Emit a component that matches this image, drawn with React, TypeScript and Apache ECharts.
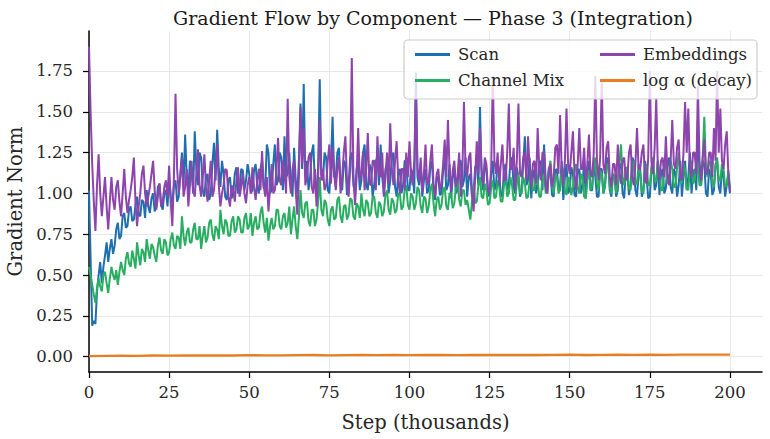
import React, { useEffect, useRef } from "react";
import * as echarts from "echarts";

const TITLE = "Gradient Flow by Component — Phase 3 (Integration)";
const X_NAME = "Step (thousands)";
const Y_NAME = "Gradient Norm";
const X_TICKS = [0, 25, 50, 75, 100, 125, 150, 175, 200];
const Y_TICKS = [0, 0.25, 0.5, 0.75, 1.0, 1.25, 1.5, 1.75];

// one value per 0.5k steps, step 0..200 (each row = 10k steps)
const SCAN = [
  1.02, 0.6, 0.19, 0.22, 0.2, 0.4, 0.5, 0.58, 0.45, 0.55, 0.62, 0.7, 0.58, 0.66, 0.72, 0.63, 0.68, 0.78, 0.82, 0.72,
  0.74, 0.86, 0.88, 0.79, 0.8, 0.9, 0.92, 0.83, 0.84, 0.93, 0.98, 0.87, 0.86, 0.96, 0.95, 0.85, 1.02, 0.92, 0.88, 0.97,
  1.0, 0.89, 0.92, 1.04, 1.06, 0.93, 0.9, 1.0, 1.02, 0.92, 1.1, 0.98, 0.94, 1.05, 1.08, 0.95, 0.98, 1.12, 1.25, 1.04,
  1.36, 1.1, 1.02, 1.2, 1.15, 1.0, 1.38, 1.15, 1.05, 1.25, 1.22, 1.02, 0.98, 1.1, 1.12, 0.96, 1.0, 1.18, 1.31, 1.08,
  1.39, 1.15, 1.04, 1.2, 1.12, 0.98, 0.96, 1.08, 1.1, 0.97, 1.0, 1.12, 1.16, 1.0, 1.02, 1.15, 1.14, 1.02, 1.08, 1.18,
  1.12, 1.0, 1.02, 1.14, 1.18, 1.04, 1.0, 1.15, 1.2, 1.03, 1.05, 1.3, 1.25, 1.0, 1.02, 1.18, 1.3, 1.05, 1.08, 1.25,
  1.22, 1.02, 1.35, 1.1, 1.12, 1.25, 1.05, 0.98, 1.28, 1.08, 1.0, 1.2, 1.55, 1.15, 1.67, 1.1, 1.2, 1.02, 1.1, 1.25,
  1.3, 1.05, 1.02, 1.15, 1.7, 1.12, 1.08, 1.25, 1.22, 1.02, 1.0, 1.18, 1.47, 1.1, 1.1, 1.25, 1.28, 1.05, 1.02, 1.2,
  1.18, 0.99, 1.05, 1.22, 1.25, 1.05, 1.0, 1.15, 1.2, 1.02, 1.08, 1.25, 1.3, 1.05, 1.02, 1.18, 1.15, 0.98, 1.05, 1.2,
  1.22, 1.05, 1.3, 1.1, 1.0, 1.15, 1.18, 1.0, 1.08, 1.22, 1.25, 1.04, 0.98, 1.12, 1.15, 1.0, 1.05, 1.2, 1.2, 1.02,
  1.02, 1.15, 1.12, 1.0, 1.74, 1.1, 1.05, 1.18, 0.98, 1.08, 1.15, 1.0, 1.02, 1.16, 1.2, 1.02, 0.96, 1.1, 1.1, 0.99,
  1.0, 1.14, 1.22, 1.02, 1.05, 1.18, 0.97, 1.1, 1.15, 1.0, 1.02, 1.2, 1.2, 1.04, 1.08, 1.22, 0.98, 1.1, 1.12, 0.98,
  1.0, 1.16, 1.18, 1.05, 1.53, 1.1, 1.02, 1.18, 1.15, 1.0, 0.98, 1.12, 1.2, 1.02, 1.05, 1.2, 1.12, 0.99, 0.98, 1.15,
  1.18, 1.02, 1.05, 1.2, 1.22, 1.04, 1.0, 1.16, 1.1, 0.98, 1.02, 1.18, 1.35, 1.05, 1.08, 1.22, 0.97, 1.1, 1.15, 1.0,
  1.05, 1.18, 1.2, 1.02, 1.3, 1.08, 1.0, 1.16, 1.12, 0.99, 0.98, 1.14, 1.15, 1.02, 1.05, 1.2, 0.96, 1.1, 1.18, 1.0,
  1.02, 1.16, 1.12, 0.99, 0.98, 1.14, 1.15, 1.0, 1.05, 1.2, 0.97, 1.1, 1.2, 1.02, 1.02, 1.18, 1.1, 0.98, 0.98, 1.15,
  1.15, 1.0, 1.05, 1.22, 1.2, 1.02, 0.98, 1.12, 1.1, 0.98, 1.02, 1.18, 1.18, 1.0, 0.97, 1.14, 1.12, 0.99, 1.05, 1.22,
  1.2, 1.02, 0.98, 1.12, 1.15, 0.98, 1.02, 1.2, 1.1, 0.97, 0.98, 1.15, 1.18, 1.02, 1.05, 1.2, 0.99, 1.12, 1.15, 1.0,
  1.03, 1.18, 1.22, 1.04, 1.0, 1.15, 1.12, 0.98, 1.05, 1.2, 0.98, 1.1, 1.2, 1.02, 1.1, 1.25, 1.0, 1.12, 1.15, 1.02,
  1.45, 1.1, 1.05, 1.2, 1.18, 1.0, 0.98, 1.15, 1.12, 0.99, 1.02, 1.18, 1.2, 1.04, 1.0, 1.15, 1.1, 0.98, 1.05, 1.12,
  1.0,
];

const CHANNEL_MIX = [
  0.55, 0.5, 0.44, 0.38, 0.33, 0.42, 0.48, 0.43, 0.4, 0.5, 0.52, 0.45, 0.39, 0.48, 0.55, 0.5, 0.47, 0.53, 0.44, 0.52,
  0.58, 0.53, 0.5, 0.6, 0.64, 0.57, 0.55, 0.65, 0.6, 0.54, 0.7, 0.62, 0.56, 0.66, 0.64, 0.58, 0.72, 0.65, 0.6, 0.69,
  0.67, 0.62, 0.58, 0.68, 0.73, 0.65, 0.63, 0.72, 0.7, 0.62, 0.64, 0.72, 0.76, 0.68, 0.66, 0.74, 0.73, 0.66, 0.86, 0.74,
  0.68, 0.76, 0.79, 0.7, 0.7, 0.78, 0.82, 0.72, 0.72, 0.8, 0.66, 0.74, 0.8, 0.7, 0.73, 0.82, 0.84, 0.75, 0.71, 0.8,
  0.78, 0.72, 0.9, 0.8, 0.75, 0.84, 0.82, 0.74, 0.74, 0.83, 0.86, 0.76, 0.78, 0.86, 0.84, 0.76, 0.76, 0.85, 0.88, 0.78,
  0.8, 0.88, 0.74, 0.82, 0.86, 0.78, 0.79, 0.88, 0.92, 0.82, 0.76, 0.85, 0.71, 0.8, 0.85, 0.78, 0.8, 0.9, 0.9, 0.8,
  0.78, 0.86, 0.88, 0.79, 0.82, 0.92, 0.75, 0.84, 0.92, 0.8, 0.72, 0.85, 1.02, 0.88, 0.85, 0.94, 0.95, 0.83, 0.8, 0.9,
  0.9, 0.8, 0.84, 0.95, 1.1, 0.9, 0.86, 0.96, 0.94, 0.84, 0.8, 0.9, 0.92, 0.84, 0.85, 0.96, 0.98, 0.86, 0.82, 0.92,
  0.93, 0.84, 0.87, 0.97, 0.96, 0.86, 0.84, 0.94, 0.92, 0.85, 1.0, 0.9, 0.86, 0.96, 0.94, 0.86, 0.88, 0.98, 0.98, 0.88,
  0.85, 0.95, 0.93, 0.86, 0.89, 0.99, 1.02, 0.9, 0.87, 0.97, 0.95, 0.88, 0.9, 1.0, 1.0, 0.9, 0.92, 1.02, 1.05, 0.93,
  0.9, 1.0, 0.98, 0.9, 0.94, 1.04, 1.02, 0.92, 0.88, 0.98, 0.97, 0.88, 0.92, 1.02, 1.06, 0.94, 0.86, 0.96, 0.98, 0.9,
  0.93, 1.02, 1.04, 0.92, 0.9, 1.0, 1.0, 0.91, 0.94, 1.04, 1.08, 0.96, 0.92, 1.02, 1.02, 0.93, 0.96, 0.9, 0.84, 0.95,
  1.05, 0.94, 0.95, 1.05, 1.1, 0.98, 0.97, 1.06, 1.02, 0.93, 0.94, 1.04, 1.08, 0.97, 0.98, 1.08, 1.04, 0.95, 0.95, 1.05,
  1.1, 0.98, 1.0, 1.1, 1.05, 0.96, 0.96, 1.06, 1.12, 1.0, 1.0, 1.1, 1.06, 0.97, 0.98, 1.08, 1.14, 1.02, 1.02, 1.12,
  1.08, 0.98, 0.98, 1.1, 1.12, 1.0, 1.03, 1.14, 1.2, 1.04, 1.0, 1.12, 1.1, 1.0, 1.02, 1.14, 1.15, 1.02, 0.99, 1.1,
  1.08, 0.99, 1.04, 1.15, 1.18, 1.04, 1.0, 1.12, 1.1, 0.98, 0.97, 1.1, 1.14, 1.02, 1.05, 1.16, 1.22, 1.06, 1.02, 1.14,
  1.12, 1.0, 1.04, 1.16, 1.18, 1.04, 1.0, 1.12, 1.1, 1.0, 1.06, 1.18, 1.3, 1.1, 1.05, 1.16, 1.15, 1.03, 1.02, 1.14,
  1.2, 1.06, 1.06, 1.18, 1.12, 1.01, 1.0, 1.14, 1.18, 1.05, 1.05, 1.16, 1.22, 1.07, 1.08, 1.2, 1.12, 1.02, 1.02, 1.15,
  1.2, 1.06, 1.08, 1.2, 1.15, 1.04, 1.04, 1.16, 1.25, 1.1, 1.06, 1.18, 1.14, 1.03, 1.02, 1.15, 1.2, 1.06, 1.08, 1.2,
  1.16, 1.05, 1.05, 1.22, 1.47, 1.15, 1.1, 1.2, 1.18, 1.06, 1.04, 1.16, 1.22, 1.08, 1.08, 1.18, 1.15, 1.04, 1.05, 1.14,
  1.03,
];

const EMBEDDINGS = [
  1.9, 1.5, 1.18, 0.95, 0.77, 1.05, 1.24, 1.0, 0.86, 0.98, 1.1, 0.92, 0.78, 0.95, 1.1, 0.96, 0.9, 1.04, 1.08, 0.95,
  0.86, 1.0, 1.15, 0.98, 0.88, 0.96, 1.02, 1.1, 1.22, 0.95, 0.8, 0.92, 1.0, 1.12, 1.17, 1.0, 0.92, 0.98, 1.04, 1.12,
  1.2, 1.02, 0.9, 0.98, 1.06, 0.92, 0.95, 1.04, 1.08, 0.98, 1.17, 0.95, 0.8, 1.1, 1.61, 1.15, 1.0, 1.1, 1.22, 0.98,
  1.04, 1.15, 0.92, 1.05, 1.2, 1.02, 0.98, 1.12, 1.27, 1.05, 0.98, 1.1, 1.24, 1.04, 0.95, 1.08, 1.2, 0.98, 1.02, 1.15,
  1.3, 1.05, 0.92, 1.0, 1.05, 1.15, 1.14, 0.98, 0.92, 1.05, 1.02, 0.95, 1.08, 1.16, 0.98, 1.04, 1.12, 1.0, 0.94, 1.05,
  1.1, 1.0, 1.16, 1.04, 0.96, 1.08, 1.15, 1.02, 1.26, 1.05, 0.98, 1.1, 0.89, 1.04, 1.18, 1.0, 1.02, 1.15, 1.34, 1.08,
  1.05, 1.2, 1.12, 1.0, 1.58, 1.1, 1.0, 1.15, 1.2, 1.02, 0.87, 1.1, 1.53, 1.18, 1.4, 1.05, 1.1, 1.22, 1.25, 1.04,
  1.0, 1.15, 0.92, 1.1, 1.45, 1.08, 1.15, 1.02, 1.05, 1.2, 1.3, 1.06, 1.28, 1.12, 1.02, 1.15, 1.22, 1.0, 1.1, 1.25,
  1.35, 1.08, 0.98, 1.15, 1.83, 1.12, 0.93, 1.1, 1.4, 1.08, 1.12, 1.25, 1.02, 1.15, 1.37, 1.06, 1.05, 1.2, 1.2, 1.02,
  1.35, 1.12, 1.1, 1.25, 0.98, 1.1, 1.25, 1.06, 1.43, 1.15, 1.05, 1.2, 1.32, 1.08, 1.0, 1.15, 1.15, 1.02, 1.25, 1.1,
  1.32, 1.12, 1.05, 1.2, 1.64, 1.15, 1.08, 1.22, 1.0, 1.12, 1.3, 1.05, 1.08, 1.2, 1.3, 1.06, 0.98, 1.12, 1.15, 1.02,
  1.06, 1.18, 1.33, 1.1, 1.45, 1.15, 1.02, 1.14, 1.2, 1.04, 1.1, 1.25, 0.98, 1.12, 1.56, 1.15, 1.1, 1.22, 1.25, 1.0,
  0.89, 1.1, 1.32, 1.12, 1.4, 1.15, 1.05, 1.22, 1.18, 1.02, 1.0, 1.15, 1.72, 1.2, 1.12, 1.25, 1.05, 1.18, 1.3, 1.08,
  1.08, 1.25, 1.55, 1.15, 1.15, 1.28, 1.02, 1.2, 1.55, 1.12, 1.1, 1.22, 1.25, 1.08, 1.35, 1.15, 1.04, 1.18, 1.2, 1.06,
  1.4, 1.15, 1.08, 1.25, 1.25, 1.05, 1.0, 1.15, 1.18, 1.04, 1.1, 1.28, 1.3, 1.12, 1.48, 1.15, 1.05, 1.2, 1.52, 1.18,
  1.12, 1.25, 1.38, 1.12, 1.02, 1.18, 1.4, 1.15, 1.15, 1.28, 1.06, 1.18, 1.36, 1.12, 1.1, 1.25, 1.72, 1.2, 1.08, 1.22,
  1.7, 1.18, 1.12, 1.28, 1.32, 1.1, 1.04, 1.18, 1.18, 1.05, 1.3, 1.12, 1.06, 1.2, 1.22, 1.08, 1.1, 1.25, 1.3, 1.1,
  1.05, 1.18, 1.4, 1.15, 1.15, 1.25, 1.3, 1.08, 1.06, 1.22, 1.75, 1.2, 1.12, 1.28, 1.58, 1.15, 1.08, 1.2, 1.22, 1.1,
  1.35, 1.12, 1.05, 1.2, 1.45, 1.18, 1.15, 1.28, 1.33, 1.1, 1.08, 1.25, 1.56, 1.25, 1.52, 1.15, 1.1, 1.25, 1.25, 1.12,
  1.66, 1.2, 1.08, 1.22, 1.33, 1.12, 1.12, 1.25, 1.25, 1.1, 1.4, 1.2, 1.75, 1.25, 1.52, 1.2, 1.15, 1.3, 1.38, 1.12,
  1.01,
];

// log alpha sampled every 5k steps
const LOG_ALPHA_STEPS = [
  0, 5, 10, 15, 20, 25, 30, 35, 40, 45, 50, 55, 60, 65, 70, 75, 80, 85, 90, 95, 100,
  105, 110, 115, 120, 125, 130, 135, 140, 145, 150, 155, 160, 165, 170, 175, 180, 185, 190, 195, 200,
];
const LOG_ALPHA = [
  0.003, 0.005, 0.006, 0.005, 0.007, 0.006, 0.008, 0.007, 0.008, 0.007, 0.009,
  0.008, 0.008, 0.009, 0.01, 0.008, 0.009, 0.01, 0.009, 0.01, 0.009,
  0.01, 0.011, 0.009, 0.01, 0.011, 0.01, 0.011, 0.01, 0.011, 0.012,
  0.01, 0.011, 0.012, 0.011, 0.012, 0.011, 0.012, 0.013, 0.012, 0.012,
];

const STEP_SIZE = 0.5; // thousands of steps between samples of the three main series

const FONT = "DejaVu Serif";
const TEXT = "#262626";

const pairs = (vals: number[]) => vals.map((v, i) => [i * STEP_SIZE, v]);

export default function App() {
  const ref = useRef<HTMLDivElement>(null);
  useEffect(() => {
    if (!ref.current) return;
    const chart = echarts.init(ref.current, undefined, { renderer: "svg" });
    const lineSeries = (name: string, data: number[][], color: string, width = 2) => ({
      name,
      type: "line",
      data,
      showSymbol: false,
      symbol: "none",
      z: 2,
      lineStyle: { color, width },
      itemStyle: { color },
    });
    const legendCommon = {
      orient: "vertical",
      icon: "rect",
      itemWidth: 35,
      itemHeight: 3,
      itemGap: 9,
      z: 30,
      textStyle: { fontFamily: FONT, fontSize: 16.5, color: TEXT, padding: [0, 0, 0, 3] },
      selectedMode: false,
    };
    chart.setOption({
      animation: false,
      backgroundColor: "#ffffff",
      title: {
        text: TITLE,
        left: 428,
        top: 3,
        textAlign: "center",
        textStyle: { fontFamily: FONT, fontSize: 19, fontWeight: "normal", color: "#1a1a1a" },
      },
      grid: { left: 89, right: 8, top: 31, bottom: 67, containLabel: false, outerBoundsMode: "none" },
      xAxis: {
        type: "value",
        min: 0,
        max: 210,
        name: X_NAME,
        nameLocation: "middle",
        nameGap: 40,
        nameTextStyle: { fontFamily: FONT, fontSize: 19.5, color: TEXT },
        axisLine: { show: true, onZero: false, lineStyle: { color: "#000", width: 1.5 } },
        axisTick: { show: true, length: 6, customValues: X_TICKS, lineStyle: { color: "#000", width: 1.25 } },
        axisLabel: {
          customValues: X_TICKS,
          margin: 12,
          fontFamily: FONT,
          fontSize: 16.5,
          color: TEXT,
          formatter: (v: number) => String(v),
        },
        splitLine: { show: true, lineStyle: { color: "#e8e8e8", width: 1 } },
      },
      yAxis: {
        type: "value",
        min: -0.094,
        max: 1.995,
        name: Y_NAME,
        nameLocation: "middle",
        nameGap: 62,
        nameTextStyle: { fontFamily: FONT, fontSize: 19.5, color: TEXT },
        axisLine: { show: true, onZero: false, lineStyle: { color: "#000", width: 1.5 } },
        axisTick: { show: true, length: 6, customValues: Y_TICKS, lineStyle: { color: "#000", width: 1.25 } },
        axisLabel: {
          customValues: Y_TICKS,
          margin: 16,
          fontFamily: FONT,
          fontSize: 16.5,
          color: TEXT,
          formatter: (v: number) => v.toFixed(2),
        },
        splitLine: { show: true, lineStyle: { color: "#e8e8e8", width: 1 } },
      },
      graphic: [
        {
          type: "rect",
          z: 25,
          shape: { x: 404, y: 40, width: 353, height: 59, r: 4 },
          style: { fill: "rgba(255,255,255,0.8)", stroke: "#cccccc", lineWidth: 1.2 },
        },
      ],
      legend: [
        { ...legendCommon, left: 410, top: 41, data: ["Scan", "Channel Mix"] },
        {
          ...legendCommon,
          left: 595,
          top: 41,
          data: ["Embeddings", "log α (decay)"],
        },
      ],
      series: [
        lineSeries("Scan", pairs(SCAN), "#1f6fae"),
        lineSeries("Channel Mix", pairs(CHANNEL_MIX), "#27ae60"),
        lineSeries("Embeddings", pairs(EMBEDDINGS), "#8e44ad"),
        lineSeries(
          "log α (decay)",
          LOG_ALPHA_STEPS.map((s, i) => [s, LOG_ALPHA[i]]),
          "#e67e22",
          2.3
        ),
      ],
    });
    return () => chart.dispose();
  }, []);
  return <div ref={ref} style={{ width: 770, height: 439, position: "absolute", left: 0, top: 0 }} />;
}
